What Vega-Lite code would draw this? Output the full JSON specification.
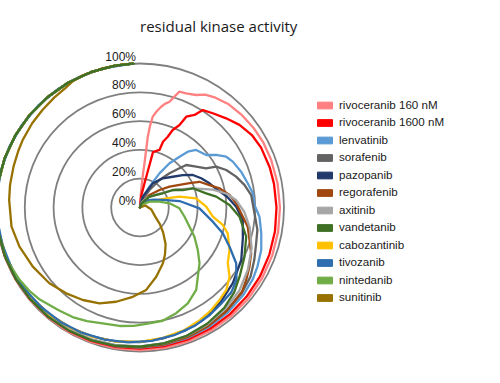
{
  "$schema": "https://vega.github.io/schema/vega-lite/v6.json",
  "width": 284,
  "height": 288,
  "autosize": "none",
  "padding": {"left": 0, "top": 63.5, "right": 216, "bottom": 31.5},
  "background": "white",
  "config": {"view": {"stroke": null}},
  "title": {"text": "residual kinase activity", "font": "Open Sans", "fontSize": 15, "fontWeight": "normal", "color": "#1a1a1a", "anchor": "middle", "frame": "bounds", "dy": -12},
  "datasets": {
    "rings": [
      {"level": 0, "label": "0%"},
      {"level": 20, "label": "20%"},
      {"level": 40, "label": "40%"},
      {"level": 60, "label": "60%"},
      {"level": 80, "label": "80%"},
      {"level": 100, "label": "100%"}
    ],
    "curves": [
      {"drug": "rivoceranib 160 nM", "angle": 0, "activity": 0},
      {"drug": "rivoceranib 160 nM", "angle": 2, "activity": 4},
      {"drug": "rivoceranib 160 nM", "angle": 3.9, "activity": 12},
      {"drug": "rivoceranib 160 nM", "angle": 5, "activity": 22},
      {"drug": "rivoceranib 160 nM", "angle": 5.8, "activity": 31},
      {"drug": "rivoceranib 160 nM", "angle": 6.3, "activity": 49.5},
      {"drug": "rivoceranib 160 nM", "angle": 7, "activity": 57},
      {"drug": "rivoceranib 160 nM", "angle": 8, "activity": 63.7},
      {"drug": "rivoceranib 160 nM", "angle": 10, "activity": 68},
      {"drug": "rivoceranib 160 nM", "angle": 11.9, "activity": 71.5},
      {"drug": "rivoceranib 160 nM", "angle": 13.5, "activity": 74},
      {"drug": "rivoceranib 160 nM", "angle": 15.6, "activity": 76.3},
      {"drug": "rivoceranib 160 nM", "angle": 17, "activity": 80},
      {"drug": "rivoceranib 160 nM", "angle": 18.8, "activity": 85},
      {"drug": "rivoceranib 160 nM", "angle": 22, "activity": 85.5},
      {"drug": "rivoceranib 160 nM", "angle": 26.5, "activity": 87.3},
      {"drug": "rivoceranib 160 nM", "angle": 30, "activity": 90.5},
      {"drug": "rivoceranib 160 nM", "angle": 34.5, "activity": 92.5},
      {"drug": "rivoceranib 160 nM", "angle": 40.7, "activity": 94.5},
      {"drug": "rivoceranib 160 nM", "angle": 47.5, "activity": 95.5},
      {"drug": "rivoceranib 160 nM", "angle": 55, "activity": 96.3},
      {"drug": "rivoceranib 160 nM", "angle": 62, "activity": 96.8},
      {"drug": "rivoceranib 160 nM", "angle": 70, "activity": 96.9},
      {"drug": "rivoceranib 160 nM", "angle": 80, "activity": 97},
      {"drug": "rivoceranib 160 nM", "angle": 90, "activity": 97.2},
      {"drug": "rivoceranib 160 nM", "angle": 100, "activity": 97.4},
      {"drug": "rivoceranib 160 nM", "angle": 110, "activity": 97.7},
      {"drug": "rivoceranib 160 nM", "angle": 120, "activity": 98},
      {"drug": "rivoceranib 160 nM", "angle": 130, "activity": 98.3},
      {"drug": "rivoceranib 160 nM", "angle": 140, "activity": 98.5},
      {"drug": "rivoceranib 160 nM", "angle": 150, "activity": 98.6},
      {"drug": "rivoceranib 160 nM", "angle": 160, "activity": 98.8},
      {"drug": "rivoceranib 160 nM", "angle": 170, "activity": 99},
      {"drug": "rivoceranib 160 nM", "angle": 180, "activity": 99.1},
      {"drug": "rivoceranib 160 nM", "angle": 190, "activity": 99.2},
      {"drug": "rivoceranib 160 nM", "angle": 200, "activity": 99.4},
      {"drug": "rivoceranib 160 nM", "angle": 210, "activity": 99.5},
      {"drug": "rivoceranib 160 nM", "angle": 220, "activity": 99.6},
      {"drug": "rivoceranib 160 nM", "angle": 230, "activity": 99.7},
      {"drug": "rivoceranib 160 nM", "angle": 240, "activity": 99.8},
      {"drug": "rivoceranib 160 nM", "angle": 250, "activity": 99.9},
      {"drug": "rivoceranib 160 nM", "angle": 260, "activity": 100},
      {"drug": "rivoceranib 160 nM", "angle": 270, "activity": 100},
      {"drug": "rivoceranib 160 nM", "angle": 280, "activity": 100},
      {"drug": "rivoceranib 160 nM", "angle": 290, "activity": 100},
      {"drug": "rivoceranib 160 nM", "angle": 300, "activity": 100},
      {"drug": "rivoceranib 160 nM", "angle": 310, "activity": 100},
      {"drug": "rivoceranib 160 nM", "angle": 320, "activity": 100},
      {"drug": "rivoceranib 160 nM", "angle": 330, "activity": 100},
      {"drug": "rivoceranib 160 nM", "angle": 340, "activity": 100},
      {"drug": "rivoceranib 160 nM", "angle": 350, "activity": 100},
      {"drug": "rivoceranib 160 nM", "angle": 357, "activity": 100},

      {"drug": "rivoceranib 1600 nM", "angle": 0, "activity": 0},
      {"drug": "rivoceranib 1600 nM", "angle": 6, "activity": 8},
      {"drug": "rivoceranib 1600 nM", "angle": 10.5, "activity": 17},
      {"drug": "rivoceranib 1600 nM", "angle": 12.5, "activity": 29},
      {"drug": "rivoceranib 1600 nM", "angle": 13.2, "activity": 39.5},
      {"drug": "rivoceranib 1600 nM", "angle": 18.7, "activity": 42.2},
      {"drug": "rivoceranib 1600 nM", "angle": 19.3, "activity": 48.4},
      {"drug": "rivoceranib 1600 nM", "angle": 21.4, "activity": 52.8},
      {"drug": "rivoceranib 1600 nM", "angle": 22.9, "activity": 58.4},
      {"drug": "rivoceranib 1600 nM", "angle": 25.6, "activity": 63.5},
      {"drug": "rivoceranib 1600 nM", "angle": 27, "activity": 70.8},
      {"drug": "rivoceranib 1600 nM", "angle": 30.5, "activity": 74.6},
      {"drug": "rivoceranib 1600 nM", "angle": 32.8, "activity": 80.5},
      {"drug": "rivoceranib 1600 nM", "angle": 37.7, "activity": 82.7},
      {"drug": "rivoceranib 1600 nM", "angle": 44, "activity": 86.1},
      {"drug": "rivoceranib 1600 nM", "angle": 50.3, "activity": 89.8},
      {"drug": "rivoceranib 1600 nM", "angle": 57.3, "activity": 92.6},
      {"drug": "rivoceranib 1600 nM", "angle": 63.7, "activity": 93.8},
      {"drug": "rivoceranib 1600 nM", "angle": 72.9, "activity": 94.3},
      {"drug": "rivoceranib 1600 nM", "angle": 80, "activity": 94.5},
      {"drug": "rivoceranib 1600 nM", "angle": 90, "activity": 94.8},
      {"drug": "rivoceranib 1600 nM", "angle": 100, "activity": 95.2},
      {"drug": "rivoceranib 1600 nM", "angle": 110, "activity": 95.6},
      {"drug": "rivoceranib 1600 nM", "angle": 120, "activity": 96.1},
      {"drug": "rivoceranib 1600 nM", "angle": 130, "activity": 96.5},
      {"drug": "rivoceranib 1600 nM", "angle": 140, "activity": 96.9},
      {"drug": "rivoceranib 1600 nM", "angle": 150, "activity": 97.2},
      {"drug": "rivoceranib 1600 nM", "angle": 160, "activity": 97.5},
      {"drug": "rivoceranib 1600 nM", "angle": 170, "activity": 97.8},
      {"drug": "rivoceranib 1600 nM", "angle": 180, "activity": 98},
      {"drug": "rivoceranib 1600 nM", "angle": 190, "activity": 98.3},
      {"drug": "rivoceranib 1600 nM", "angle": 200, "activity": 98.6},
      {"drug": "rivoceranib 1600 nM", "angle": 210, "activity": 98.9},
      {"drug": "rivoceranib 1600 nM", "angle": 220, "activity": 99.1},
      {"drug": "rivoceranib 1600 nM", "angle": 230, "activity": 99.3},
      {"drug": "rivoceranib 1600 nM", "angle": 240, "activity": 99.5},
      {"drug": "rivoceranib 1600 nM", "angle": 250, "activity": 99.7},
      {"drug": "rivoceranib 1600 nM", "angle": 260, "activity": 99.8},
      {"drug": "rivoceranib 1600 nM", "angle": 270, "activity": 99.9},
      {"drug": "rivoceranib 1600 nM", "angle": 280, "activity": 100},
      {"drug": "rivoceranib 1600 nM", "angle": 290, "activity": 100},
      {"drug": "rivoceranib 1600 nM", "angle": 300, "activity": 100},
      {"drug": "rivoceranib 1600 nM", "angle": 310, "activity": 100},
      {"drug": "rivoceranib 1600 nM", "angle": 320, "activity": 100},
      {"drug": "rivoceranib 1600 nM", "angle": 330, "activity": 100},
      {"drug": "rivoceranib 1600 nM", "angle": 340, "activity": 100},
      {"drug": "rivoceranib 1600 nM", "angle": 350, "activity": 100},
      {"drug": "rivoceranib 1600 nM", "angle": 357, "activity": 100},

      {"drug": "lenvatinib", "angle": 0, "activity": 0},
      {"drug": "lenvatinib", "angle": 12, "activity": 6},
      {"drug": "lenvatinib", "angle": 24.5, "activity": 15.9},
      {"drug": "lenvatinib", "angle": 29.7, "activity": 27.3},
      {"drug": "lenvatinib", "angle": 33.7, "activity": 36.9},
      {"drug": "lenvatinib", "angle": 37.9, "activity": 44.7},
      {"drug": "lenvatinib", "angle": 40.6, "activity": 51},
      {"drug": "lenvatinib", "angle": 44.3, "activity": 55.8},
      {"drug": "lenvatinib", "angle": 51.6, "activity": 58.7},
      {"drug": "lenvatinib", "angle": 55.4, "activity": 64.3},
      {"drug": "lenvatinib", "angle": 59.5, "activity": 69.5},
      {"drug": "lenvatinib", "angle": 63.7, "activity": 71.9},
      {"drug": "lenvatinib", "angle": 70.5, "activity": 74.5},
      {"drug": "lenvatinib", "angle": 77.3, "activity": 76.7},
      {"drug": "lenvatinib", "angle": 82.8, "activity": 79},
      {"drug": "lenvatinib", "angle": 88.7, "activity": 79.5},
      {"drug": "lenvatinib", "angle": 94.4, "activity": 83.2},
      {"drug": "lenvatinib", "angle": 102, "activity": 86.1},
      {"drug": "lenvatinib", "angle": 109.3, "activity": 89.2},
      {"drug": "lenvatinib", "angle": 116.7, "activity": 91.3},
      {"drug": "lenvatinib", "angle": 122.3, "activity": 92.8},
      {"drug": "lenvatinib", "angle": 130, "activity": 94},
      {"drug": "lenvatinib", "angle": 140, "activity": 95},
      {"drug": "lenvatinib", "angle": 150, "activity": 95.8},
      {"drug": "lenvatinib", "angle": 160, "activity": 96.4},
      {"drug": "lenvatinib", "angle": 170, "activity": 96.9},
      {"drug": "lenvatinib", "angle": 180, "activity": 97.3},
      {"drug": "lenvatinib", "angle": 190, "activity": 97.7},
      {"drug": "lenvatinib", "angle": 200, "activity": 98.1},
      {"drug": "lenvatinib", "angle": 210, "activity": 98.5},
      {"drug": "lenvatinib", "angle": 220, "activity": 98.8},
      {"drug": "lenvatinib", "angle": 230, "activity": 99.1},
      {"drug": "lenvatinib", "angle": 240, "activity": 99.3},
      {"drug": "lenvatinib", "angle": 250, "activity": 99.5},
      {"drug": "lenvatinib", "angle": 260, "activity": 99.7},
      {"drug": "lenvatinib", "angle": 270, "activity": 99.8},
      {"drug": "lenvatinib", "angle": 280, "activity": 99.9},
      {"drug": "lenvatinib", "angle": 290, "activity": 100},
      {"drug": "lenvatinib", "angle": 300, "activity": 100},
      {"drug": "lenvatinib", "angle": 310, "activity": 100},
      {"drug": "lenvatinib", "angle": 320, "activity": 100},
      {"drug": "lenvatinib", "angle": 330, "activity": 100},
      {"drug": "lenvatinib", "angle": 340, "activity": 100},
      {"drug": "lenvatinib", "angle": 350, "activity": 100},
      {"drug": "lenvatinib", "angle": 357, "activity": 100},

      {"drug": "sorafenib", "angle": 0, "activity": 0},
      {"drug": "sorafenib", "angle": 15, "activity": 5},
      {"drug": "sorafenib", "angle": 28.5, "activity": 13.8},
      {"drug": "sorafenib", "angle": 35.3, "activity": 23.4},
      {"drug": "sorafenib", "angle": 40.8, "activity": 31.4},
      {"drug": "sorafenib", "angle": 45.2, "activity": 38.6},
      {"drug": "sorafenib", "angle": 47.4, "activity": 43.6},
      {"drug": "sorafenib", "angle": 54, "activity": 48.2},
      {"drug": "sorafenib", "angle": 59.4, "activity": 53.4},
      {"drug": "sorafenib", "angle": 61.8, "activity": 60},
      {"drug": "sorafenib", "angle": 66.5, "activity": 65.3},
      {"drug": "sorafenib", "angle": 72.2, "activity": 70.1},
      {"drug": "sorafenib", "angle": 77.8, "activity": 74.2},
      {"drug": "sorafenib", "angle": 83.6, "activity": 77.7},
      {"drug": "sorafenib", "angle": 92.9, "activity": 79.6},
      {"drug": "sorafenib", "angle": 100.8, "activity": 83},
      {"drug": "sorafenib", "angle": 107.1, "activity": 84.4},
      {"drug": "sorafenib", "angle": 114.6, "activity": 87.3},
      {"drug": "sorafenib", "angle": 121.9, "activity": 90.5},
      {"drug": "sorafenib", "angle": 130, "activity": 92.3},
      {"drug": "sorafenib", "angle": 140, "activity": 93.7},
      {"drug": "sorafenib", "angle": 150, "activity": 94.6},
      {"drug": "sorafenib", "angle": 160, "activity": 95.3},
      {"drug": "sorafenib", "angle": 170, "activity": 95.9},
      {"drug": "sorafenib", "angle": 180, "activity": 96.6},
      {"drug": "sorafenib", "angle": 190, "activity": 97.2},
      {"drug": "sorafenib", "angle": 200, "activity": 97.7},
      {"drug": "sorafenib", "angle": 210, "activity": 98.2},
      {"drug": "sorafenib", "angle": 220, "activity": 98.7},
      {"drug": "sorafenib", "angle": 230, "activity": 99.1},
      {"drug": "sorafenib", "angle": 240, "activity": 99.4},
      {"drug": "sorafenib", "angle": 250, "activity": 99.6},
      {"drug": "sorafenib", "angle": 260, "activity": 99.8},
      {"drug": "sorafenib", "angle": 270, "activity": 100},
      {"drug": "sorafenib", "angle": 280, "activity": 100},
      {"drug": "sorafenib", "angle": 290, "activity": 100},
      {"drug": "sorafenib", "angle": 300, "activity": 100},
      {"drug": "sorafenib", "angle": 310, "activity": 100},
      {"drug": "sorafenib", "angle": 320, "activity": 100},
      {"drug": "sorafenib", "angle": 330, "activity": 100},
      {"drug": "sorafenib", "angle": 340, "activity": 100},
      {"drug": "sorafenib", "angle": 350, "activity": 100},
      {"drug": "sorafenib", "angle": 357, "activity": 100},

      {"drug": "pazopanib", "angle": 0, "activity": 0},
      {"drug": "pazopanib", "angle": 15, "activity": 8},
      {"drug": "pazopanib", "angle": 27.9, "activity": 19},
      {"drug": "pazopanib", "angle": 38, "activity": 25.7},
      {"drug": "pazopanib", "angle": 46.8, "activity": 31.2},
      {"drug": "pazopanib", "angle": 52.8, "activity": 37.3},
      {"drug": "pazopanib", "angle": 58.4, "activity": 43.1},
      {"drug": "pazopanib", "angle": 64.5, "activity": 47.1},
      {"drug": "pazopanib", "angle": 70.8, "activity": 51.1},
      {"drug": "pazopanib", "angle": 77, "activity": 55},
      {"drug": "pazopanib", "angle": 83, "activity": 61},
      {"drug": "pazopanib", "angle": 89.5, "activity": 66.8},
      {"drug": "pazopanib", "angle": 96.9, "activity": 71.9},
      {"drug": "pazopanib", "angle": 106.5, "activity": 74.5},
      {"drug": "pazopanib", "angle": 117.4, "activity": 79.2},
      {"drug": "pazopanib", "angle": 129.2, "activity": 83.2},
      {"drug": "pazopanib", "angle": 140, "activity": 86.5},
      {"drug": "pazopanib", "angle": 150.8, "activity": 89.5},
      {"drug": "pazopanib", "angle": 160, "activity": 91},
      {"drug": "pazopanib", "angle": 170, "activity": 92.3},
      {"drug": "pazopanib", "angle": 180, "activity": 93.5},
      {"drug": "pazopanib", "angle": 190, "activity": 94.5},
      {"drug": "pazopanib", "angle": 200, "activity": 95.5},
      {"drug": "pazopanib", "angle": 210, "activity": 96.4},
      {"drug": "pazopanib", "angle": 220, "activity": 97.2},
      {"drug": "pazopanib", "angle": 230, "activity": 97.9},
      {"drug": "pazopanib", "angle": 240, "activity": 98.5},
      {"drug": "pazopanib", "angle": 250, "activity": 99},
      {"drug": "pazopanib", "angle": 260, "activity": 99.4},
      {"drug": "pazopanib", "angle": 270, "activity": 99.7},
      {"drug": "pazopanib", "angle": 280, "activity": 99.9},
      {"drug": "pazopanib", "angle": 290, "activity": 100},
      {"drug": "pazopanib", "angle": 300, "activity": 100},
      {"drug": "pazopanib", "angle": 310, "activity": 100},
      {"drug": "pazopanib", "angle": 320, "activity": 100},
      {"drug": "pazopanib", "angle": 330, "activity": 100},
      {"drug": "pazopanib", "angle": 340, "activity": 100},
      {"drug": "pazopanib", "angle": 350, "activity": 100},
      {"drug": "pazopanib", "angle": 357, "activity": 100},

      {"drug": "regorafenib", "angle": 0, "activity": 0},
      {"drug": "regorafenib", "angle": 20, "activity": 4},
      {"drug": "regorafenib", "angle": 37.2, "activity": 10.9},
      {"drug": "regorafenib", "angle": 48.1, "activity": 18.2},
      {"drug": "regorafenib", "angle": 54.8, "activity": 25.1},
      {"drug": "regorafenib", "angle": 60.3, "activity": 31.6},
      {"drug": "regorafenib", "angle": 63.9, "activity": 38.3},
      {"drug": "regorafenib", "angle": 66.6, "activity": 45},
      {"drug": "regorafenib", "angle": 72.1, "activity": 50.7},
      {"drug": "regorafenib", "angle": 76.4, "activity": 56.8},
      {"drug": "regorafenib", "angle": 82, "activity": 62.8},
      {"drug": "regorafenib", "angle": 87.5, "activity": 66.9},
      {"drug": "regorafenib", "angle": 95.1, "activity": 71.7},
      {"drug": "regorafenib", "angle": 100.1, "activity": 76},
      {"drug": "regorafenib", "angle": 106.5, "activity": 79.3},
      {"drug": "regorafenib", "angle": 112.4, "activity": 83.5},
      {"drug": "regorafenib", "angle": 118.4, "activity": 86.4},
      {"drug": "regorafenib", "angle": 124.3, "activity": 89.3},
      {"drug": "regorafenib", "angle": 129.4, "activity": 91.8},
      {"drug": "regorafenib", "angle": 140, "activity": 93.6},
      {"drug": "regorafenib", "angle": 150, "activity": 95},
      {"drug": "regorafenib", "angle": 160, "activity": 95.8},
      {"drug": "regorafenib", "angle": 170, "activity": 96.5},
      {"drug": "regorafenib", "angle": 180, "activity": 97.1},
      {"drug": "regorafenib", "angle": 190, "activity": 97.6},
      {"drug": "regorafenib", "angle": 200, "activity": 98},
      {"drug": "regorafenib", "angle": 210, "activity": 98.4},
      {"drug": "regorafenib", "angle": 220, "activity": 98.8},
      {"drug": "regorafenib", "angle": 230, "activity": 99.1},
      {"drug": "regorafenib", "angle": 240, "activity": 99.4},
      {"drug": "regorafenib", "angle": 250, "activity": 99.6},
      {"drug": "regorafenib", "angle": 260, "activity": 99.8},
      {"drug": "regorafenib", "angle": 270, "activity": 99.9},
      {"drug": "regorafenib", "angle": 280, "activity": 100},
      {"drug": "regorafenib", "angle": 290, "activity": 100},
      {"drug": "regorafenib", "angle": 300, "activity": 100},
      {"drug": "regorafenib", "angle": 310, "activity": 100},
      {"drug": "regorafenib", "angle": 320, "activity": 100},
      {"drug": "regorafenib", "angle": 330, "activity": 100},
      {"drug": "regorafenib", "angle": 340, "activity": 100},
      {"drug": "regorafenib", "angle": 350, "activity": 100},
      {"drug": "regorafenib", "angle": 357, "activity": 100},

      {"drug": "axitinib", "angle": 0, "activity": 0},
      {"drug": "axitinib", "angle": 20, "activity": 4},
      {"drug": "axitinib", "angle": 35, "activity": 8},
      {"drug": "axitinib", "angle": 45, "activity": 11},
      {"drug": "axitinib", "angle": 53.4, "activity": 16},
      {"drug": "axitinib", "angle": 63.7, "activity": 28.5},
      {"drug": "axitinib", "angle": 70.7, "activity": 40},
      {"drug": "axitinib", "angle": 76.2, "activity": 52},
      {"drug": "axitinib", "angle": 81, "activity": 61},
      {"drug": "axitinib", "angle": 85.7, "activity": 67},
      {"drug": "axitinib", "angle": 92.4, "activity": 72.5},
      {"drug": "axitinib", "angle": 100.4, "activity": 77.5},
      {"drug": "axitinib", "angle": 110, "activity": 82.5},
      {"drug": "axitinib", "angle": 120, "activity": 86.5},
      {"drug": "axitinib", "angle": 130, "activity": 90},
      {"drug": "axitinib", "angle": 140, "activity": 92},
      {"drug": "axitinib", "angle": 150, "activity": 93.8},
      {"drug": "axitinib", "angle": 160, "activity": 94.9},
      {"drug": "axitinib", "angle": 170, "activity": 95.8},
      {"drug": "axitinib", "angle": 180, "activity": 96.5},
      {"drug": "axitinib", "angle": 190, "activity": 97.1},
      {"drug": "axitinib", "angle": 200, "activity": 97.6},
      {"drug": "axitinib", "angle": 210, "activity": 98},
      {"drug": "axitinib", "angle": 220, "activity": 98.4},
      {"drug": "axitinib", "angle": 230, "activity": 98.8},
      {"drug": "axitinib", "angle": 240, "activity": 99.1},
      {"drug": "axitinib", "angle": 250, "activity": 99.4},
      {"drug": "axitinib", "angle": 260, "activity": 99.6},
      {"drug": "axitinib", "angle": 270, "activity": 99.8},
      {"drug": "axitinib", "angle": 280, "activity": 100},
      {"drug": "axitinib", "angle": 290, "activity": 100},
      {"drug": "axitinib", "angle": 300, "activity": 100},
      {"drug": "axitinib", "angle": 310, "activity": 100},
      {"drug": "axitinib", "angle": 320, "activity": 100},
      {"drug": "axitinib", "angle": 330, "activity": 100},
      {"drug": "axitinib", "angle": 340, "activity": 100},
      {"drug": "axitinib", "angle": 350, "activity": 100},
      {"drug": "axitinib", "angle": 357, "activity": 100},

      {"drug": "cabozantinib", "angle": 0, "activity": 0},
      {"drug": "cabozantinib", "angle": 30, "activity": 3},
      {"drug": "cabozantinib", "angle": 58.6, "activity": 7.7},
      {"drug": "cabozantinib", "angle": 70.6, "activity": 19.3},
      {"drug": "cabozantinib", "angle": 74.7, "activity": 28.4},
      {"drug": "cabozantinib", "angle": 80.7, "activity": 39.5},
      {"drug": "cabozantinib", "angle": 89.3, "activity": 46},
      {"drug": "cabozantinib", "angle": 97.2, "activity": 51},
      {"drug": "cabozantinib", "angle": 101.9, "activity": 58.8},
      {"drug": "cabozantinib", "angle": 106.4, "activity": 63.5},
      {"drug": "cabozantinib", "angle": 115.4, "activity": 68.8},
      {"drug": "cabozantinib", "angle": 122.4, "activity": 72.2},
      {"drug": "cabozantinib", "angle": 127.7, "activity": 78.6},
      {"drug": "cabozantinib", "angle": 133.7, "activity": 82.9},
      {"drug": "cabozantinib", "angle": 139.3, "activity": 84.7},
      {"drug": "cabozantinib", "angle": 145.2, "activity": 86.7},
      {"drug": "cabozantinib", "angle": 152, "activity": 88.6},
      {"drug": "cabozantinib", "angle": 160, "activity": 90.5},
      {"drug": "cabozantinib", "angle": 170, "activity": 91.9},
      {"drug": "cabozantinib", "angle": 180, "activity": 93.3},
      {"drug": "cabozantinib", "angle": 190, "activity": 94.5},
      {"drug": "cabozantinib", "angle": 200, "activity": 95.6},
      {"drug": "cabozantinib", "angle": 210, "activity": 96.5},
      {"drug": "cabozantinib", "angle": 220, "activity": 97.4},
      {"drug": "cabozantinib", "angle": 230, "activity": 98.1},
      {"drug": "cabozantinib", "angle": 240, "activity": 98.7},
      {"drug": "cabozantinib", "angle": 250, "activity": 99.1},
      {"drug": "cabozantinib", "angle": 260, "activity": 99.4},
      {"drug": "cabozantinib", "angle": 270, "activity": 99.6},
      {"drug": "cabozantinib", "angle": 280, "activity": 99.8},
      {"drug": "cabozantinib", "angle": 290, "activity": 99.9},
      {"drug": "cabozantinib", "angle": 300, "activity": 100},
      {"drug": "cabozantinib", "angle": 310, "activity": 100},
      {"drug": "cabozantinib", "angle": 320, "activity": 100},
      {"drug": "cabozantinib", "angle": 330, "activity": 100},
      {"drug": "cabozantinib", "angle": 340, "activity": 100},
      {"drug": "cabozantinib", "angle": 350, "activity": 100},
      {"drug": "cabozantinib", "angle": 357, "activity": 100},

      {"drug": "tivozanib", "angle": 0, "activity": 0},
      {"drug": "tivozanib", "angle": 30, "activity": 4},
      {"drug": "tivozanib", "angle": 45, "activity": 7},
      {"drug": "tivozanib", "angle": 60, "activity": 11},
      {"drug": "tivozanib", "angle": 71.8, "activity": 16.8},
      {"drug": "tivozanib", "angle": 80.7, "activity": 27.8},
      {"drug": "tivozanib", "angle": 90.8, "activity": 41.3},
      {"drug": "tivozanib", "angle": 101, "activity": 51.5},
      {"drug": "tivozanib", "angle": 107.3, "activity": 60.2},
      {"drug": "tivozanib", "angle": 113.7, "activity": 67.9},
      {"drug": "tivozanib", "angle": 120.1, "activity": 77.2},
      {"drug": "tivozanib", "angle": 126.9, "activity": 83.8},
      {"drug": "tivozanib", "angle": 132.8, "activity": 86.5},
      {"drug": "tivozanib", "angle": 140.3, "activity": 87.5},
      {"drug": "tivozanib", "angle": 147, "activity": 89},
      {"drug": "tivozanib", "angle": 155, "activity": 90.5},
      {"drug": "tivozanib", "angle": 165, "activity": 91.8},
      {"drug": "tivozanib", "angle": 175, "activity": 93},
      {"drug": "tivozanib", "angle": 185, "activity": 94},
      {"drug": "tivozanib", "angle": 195, "activity": 95},
      {"drug": "tivozanib", "angle": 205, "activity": 95.9},
      {"drug": "tivozanib", "angle": 215, "activity": 96.8},
      {"drug": "tivozanib", "angle": 225, "activity": 97.5},
      {"drug": "tivozanib", "angle": 235, "activity": 98.1},
      {"drug": "tivozanib", "angle": 245, "activity": 98.6},
      {"drug": "tivozanib", "angle": 255, "activity": 99},
      {"drug": "tivozanib", "angle": 265, "activity": 99.4},
      {"drug": "tivozanib", "angle": 275, "activity": 99.7},
      {"drug": "tivozanib", "angle": 285, "activity": 99.9},
      {"drug": "tivozanib", "angle": 295, "activity": 100},
      {"drug": "tivozanib", "angle": 305, "activity": 100},
      {"drug": "tivozanib", "angle": 315, "activity": 100},
      {"drug": "tivozanib", "angle": 325, "activity": 100},
      {"drug": "tivozanib", "angle": 335, "activity": 100},
      {"drug": "tivozanib", "angle": 345, "activity": 100},
      {"drug": "tivozanib", "angle": 357, "activity": 100},

      {"drug": "nintedanib", "angle": 0, "activity": 0},
      {"drug": "nintedanib", "angle": 40, "activity": 3},
      {"drug": "nintedanib", "angle": 58.6, "activity": 7.7},
      {"drug": "nintedanib", "angle": 73.4, "activity": 14.1},
      {"drug": "nintedanib", "angle": 81.9, "activity": 20.7},
      {"drug": "nintedanib", "angle": 91.2, "activity": 27.4},
      {"drug": "nintedanib", "angle": 101.7, "activity": 31.6},
      {"drug": "nintedanib", "angle": 111.2, "activity": 36.9},
      {"drug": "nintedanib", "angle": 118.2, "activity": 42.9},
      {"drug": "nintedanib", "angle": 126.3, "activity": 49.8},
      {"drug": "nintedanib", "angle": 133.2, "activity": 56.7},
      {"drug": "nintedanib", "angle": 140.1, "activity": 62.6},
      {"drug": "nintedanib", "angle": 145.7, "activity": 69.3},
      {"drug": "nintedanib", "angle": 153.5, "activity": 74.4},
      {"drug": "nintedanib", "angle": 161.1, "activity": 77.6},
      {"drug": "nintedanib", "angle": 168.7, "activity": 80.2},
      {"drug": "nintedanib", "angle": 176.9, "activity": 81},
      {"drug": "nintedanib", "angle": 183, "activity": 82.3},
      {"drug": "nintedanib", "angle": 189.8, "activity": 83.5},
      {"drug": "nintedanib", "angle": 199.5, "activity": 85},
      {"drug": "nintedanib", "angle": 205, "activity": 87},
      {"drug": "nintedanib", "angle": 211.6, "activity": 89.3},
      {"drug": "nintedanib", "angle": 218.6, "activity": 91},
      {"drug": "nintedanib", "angle": 227.4, "activity": 94.5},
      {"drug": "nintedanib", "angle": 233, "activity": 96.2},
      {"drug": "nintedanib", "angle": 239, "activity": 97.5},
      {"drug": "nintedanib", "angle": 248.6, "activity": 99.5},
      {"drug": "nintedanib", "angle": 260, "activity": 100},
      {"drug": "nintedanib", "angle": 270, "activity": 100},
      {"drug": "nintedanib", "angle": 280, "activity": 100},
      {"drug": "nintedanib", "angle": 290, "activity": 100},
      {"drug": "nintedanib", "angle": 300, "activity": 100},
      {"drug": "nintedanib", "angle": 310, "activity": 100},
      {"drug": "nintedanib", "angle": 320, "activity": 100},
      {"drug": "nintedanib", "angle": 330, "activity": 100},
      {"drug": "nintedanib", "angle": 340, "activity": 100},
      {"drug": "nintedanib", "angle": 350, "activity": 100},
      {"drug": "nintedanib", "angle": 357, "activity": 100},

      {"drug": "sunitinib", "angle": 0, "activity": 0},
      {"drug": "sunitinib", "angle": 70, "activity": 4},
      {"drug": "sunitinib", "angle": 100, "activity": 8},
      {"drug": "sunitinib", "angle": 120, "activity": 12},
      {"drug": "sunitinib", "angle": 130, "activity": 18},
      {"drug": "sunitinib", "angle": 137, "activity": 23.5},
      {"drug": "sunitinib", "angle": 145, "activity": 31},
      {"drug": "sunitinib", "angle": 152, "activity": 37},
      {"drug": "sunitinib", "angle": 157.8, "activity": 42},
      {"drug": "sunitinib", "angle": 166.8, "activity": 49.4},
      {"drug": "sunitinib", "angle": 175.7, "activity": 57.4},
      {"drug": "sunitinib", "angle": 184.6, "activity": 62.2},
      {"drug": "sunitinib", "angle": 194.2, "activity": 67.5},
      {"drug": "sunitinib", "angle": 202.9, "activity": 72.2},
      {"drug": "sunitinib", "angle": 211.7, "activity": 75.5},
      {"drug": "sunitinib", "angle": 220.7, "activity": 78.6},
      {"drug": "sunitinib", "angle": 230.1, "activity": 82},
      {"drug": "sunitinib", "angle": 241.1, "activity": 85},
      {"drug": "sunitinib", "angle": 252, "activity": 88},
      {"drug": "sunitinib", "angle": 261.5, "activity": 90.2},
      {"drug": "sunitinib", "angle": 273.3, "activity": 91},
      {"drug": "sunitinib", "angle": 280, "activity": 91.6},
      {"drug": "sunitinib", "angle": 288, "activity": 92.3},
      {"drug": "sunitinib", "angle": 295, "activity": 93.2},
      {"drug": "sunitinib", "angle": 300, "activity": 94},
      {"drug": "sunitinib", "angle": 308, "activity": 95},
      {"drug": "sunitinib", "angle": 315, "activity": 95.8},
      {"drug": "sunitinib", "angle": 322, "activity": 96.8},
      {"drug": "sunitinib", "angle": 328, "activity": 97.8},
      {"drug": "sunitinib", "angle": 332, "activity": 99.3},
      {"drug": "sunitinib", "angle": 336, "activity": 100},
      {"drug": "sunitinib", "angle": 345, "activity": 100},
      {"drug": "sunitinib", "angle": 352, "activity": 100},
      {"drug": "sunitinib", "angle": 357, "activity": 100},

      {"drug": "vandetanib", "angle": 0, "activity": 0},
      {"drug": "vandetanib", "angle": 20, "activity": 3},
      {"drug": "vandetanib", "angle": 41.3, "activity": 10},
      {"drug": "vandetanib", "angle": 58.1, "activity": 18.7},
      {"drug": "vandetanib", "angle": 61.9, "activity": 25.8},
      {"drug": "vandetanib", "angle": 67.8, "activity": 32.1},
      {"drug": "vandetanib", "angle": 70, "activity": 39},
      {"drug": "vandetanib", "angle": 77.9, "activity": 47},
      {"drug": "vandetanib", "angle": 81.9, "activity": 53.5},
      {"drug": "vandetanib", "angle": 88.4, "activity": 62.2},
      {"drug": "vandetanib", "angle": 95.3, "activity": 69.4},
      {"drug": "vandetanib", "angle": 105.4, "activity": 76.5},
      {"drug": "vandetanib", "angle": 115.2, "activity": 80.2},
      {"drug": "vandetanib", "angle": 124.8, "activity": 84.2},
      {"drug": "vandetanib", "angle": 132, "activity": 88},
      {"drug": "vandetanib", "angle": 140, "activity": 91},
      {"drug": "vandetanib", "angle": 150, "activity": 93.2},
      {"drug": "vandetanib", "angle": 160, "activity": 94.8},
      {"drug": "vandetanib", "angle": 170, "activity": 95.8},
      {"drug": "vandetanib", "angle": 180, "activity": 96.7},
      {"drug": "vandetanib", "angle": 190, "activity": 97.5},
      {"drug": "vandetanib", "angle": 200, "activity": 98.2},
      {"drug": "vandetanib", "angle": 210, "activity": 98.7},
      {"drug": "vandetanib", "angle": 220, "activity": 99.1},
      {"drug": "vandetanib", "angle": 230, "activity": 99.3},
      {"drug": "vandetanib", "angle": 240, "activity": 99.5},
      {"drug": "vandetanib", "angle": 250, "activity": 99.7},
      {"drug": "vandetanib", "angle": 260, "activity": 99.8},
      {"drug": "vandetanib", "angle": 270, "activity": 99.9},
      {"drug": "vandetanib", "angle": 280, "activity": 100},
      {"drug": "vandetanib", "angle": 290, "activity": 100},
      {"drug": "vandetanib", "angle": 300, "activity": 100},
      {"drug": "vandetanib", "angle": 310, "activity": 100},
      {"drug": "vandetanib", "angle": 320, "activity": 100},
      {"drug": "vandetanib", "angle": 330, "activity": 100},
      {"drug": "vandetanib", "angle": 340, "activity": 100},
      {"drug": "vandetanib", "angle": 350, "activity": 100},
      {"drug": "vandetanib", "angle": 357.5, "activity": 100}
    ]
  },
  "layer": [
    {
      "data": {"name": "rings"},
      "transform": [{"filter": "datum.level > 0"}],
      "mark": {"type": "point", "shape": "circle", "filled": false, "stroke": "#7f7f7f", "strokeWidth": 1.8, "opacity": 1},
      "encoding": {
        "x": {"datum": 0, "type": "quantitative", "scale": {"domain": [-97.2, 100], "nice": false, "zero": false}, "axis": null},
        "y": {"datum": 0, "type": "quantitative", "scale": {"domain": [-100, 100], "nice": false, "zero": false}, "axis": null},
        "size": {"field": "level", "type": "quantitative", "scale": {"type": "pow", "exponent": 2, "domain": [0, 100], "range": [0, 82944]}, "legend": null}
      }
    },
    {
      "data": {"name": "rings"},
      "mark": {"type": "text", "align": "right", "baseline": "middle", "dx": -4, "dy": -7, "font": "Liberation Sans", "fontSize": 12, "color": "#1a1a1a"},
      "encoding": {
        "x": {"datum": 0, "type": "quantitative"},
        "y": {"field": "level", "type": "quantitative"},
        "text": {"field": "label"}
      }
    },
    {
      "data": {"name": "curves"},
      "transform": [
        {"calculate": "datum.activity * sin(datum.angle * PI / 180)", "as": "px"},
        {"calculate": "datum.activity * cos(datum.angle * PI / 180)", "as": "py"}
      ],
      "mark": {"type": "line", "strokeWidth": 2.3, "strokeJoin": "round", "strokeCap": "round"},
      "encoding": {
        "x": {"field": "px", "type": "quantitative"},
        "y": {"field": "py", "type": "quantitative"},
        "order": {"field": "angle", "type": "quantitative"},
        "color": {
          "field": "drug", "type": "nominal",
          "scale": {
            "domain": ["rivoceranib 160 nM", "rivoceranib 1600 nM", "lenvatinib", "sorafenib", "pazopanib", "regorafenib", "axitinib", "vandetanib", "cabozantinib", "tivozanib", "nintedanib", "sunitinib"],
            "range": ["#ff8080", "#ff0000", "#5b9bd5", "#636363", "#22396b", "#a0480f", "#a6a6a6", "#3e7026", "#ffc000", "#2e6eb0", "#70ad47", "#977200"]
          },
          "legend": {
            "orient": "none", "legendX": 317, "legendY": 34, "title": null, "padding": 0,
            "symbolType": "M-1,-0.45H1V0.45H-1Z", "symbolSize": 225, "symbolStrokeWidth": 1,
            "labelFont": "Liberation Sans", "labelFontSize": 11.6, "labelColor": "#1a1a1a", "labelOffset": 6, "rowPadding": 3.5,
            "encode": {"symbols": {"update": {"fill": {"scale": "color", "field": "value"}, "fillOpacity": {"value": 1}, "stroke": {"value": "#000000"}, "strokeWidth": {"value": 1}}}}
          }
        }
      }
    }
  ]
}
